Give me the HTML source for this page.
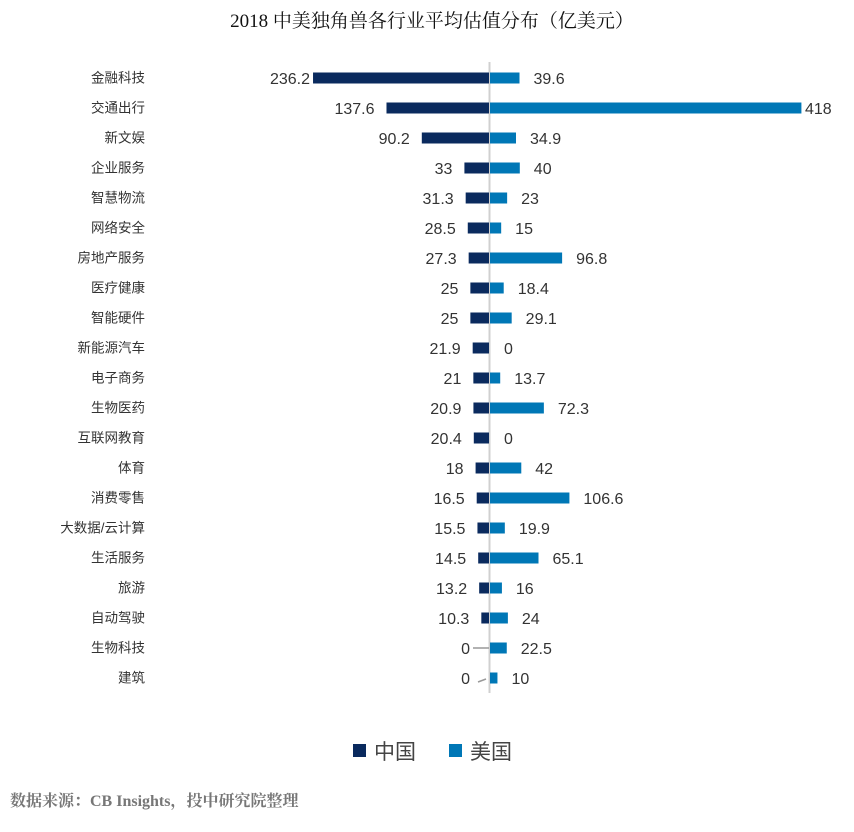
<!DOCTYPE html>
<html><head><meta charset="utf-8"><style>body{margin:0;background:#fff}svg{display:block}</style></head><body>
<svg width="854" height="832" xmlns="http://www.w3.org/2000/svg" id="s">
<text x="432" y="27" text-anchor="middle" font-family="Liberation Serif,'Noto Serif CJK SC',serif" font-size="19" fill="#111">2018 中美独角兽各行业平均估值分布（亿美元）</text>
<line x1="489.5" y1="62" x2="489.5" y2="693" stroke="#d0d0d0" stroke-width="2"/>
<g id="rows"></g>
<rect x="353" y="744" width="13" height="13" fill="#0a2a5e"/>
<text x="374" y="759" font-family="Liberation Sans,'Noto Sans CJK SC',sans-serif" font-size="21" fill="#444">中国</text>
<rect x="449" y="744" width="13" height="13" fill="#0077b6"/>
<text x="470" y="759" font-family="Liberation Sans,'Noto Sans CJK SC',sans-serif" font-size="21" fill="#444">美国</text>
<text x="10" y="806" font-family="Liberation Serif,'Noto Serif CJK SC',serif" font-size="16" font-weight="bold" fill="#777">数据来源：CB Insights，投中研究院整理</text>
</svg>
<script>
var d=[["金融科技",236.2,39.6],["交通出行",137.6,418],["新文娱",90.2,34.9],["企业服务",33,40],["智慧物流",31.3,23],["网络安全",28.5,15],["房地产服务",27.3,96.8],["医疗健康",25,18.4],["智能硬件",25,29.1],["新能源汽车",21.9,0],["电子商务",21,13.7],["生物医药",20.9,72.3],["互联网教育",20.4,0],["体育",18,42],["消费零售",16.5,106.6],["大数据/云计算",15.5,19.9],["生活服务",14.5,65.1],["旅游",13.2,16],["自动驾驶",10.3,24],["生物科技",0,22.5],["建筑",0,10]];
var k=0.745,c=489,h='',f="font-family=\"Liberation Sans,'Noto Sans CJK SC',sans-serif\"";
d.forEach(function(r,i){var y=78+i*30;
h+='<text x="145" y="'+(y+4.5)+'" text-anchor="end" '+f+' font-size="13.5" fill="#333">'+r[0]+'</text>';
var a=r[1]*k,b=r[2]*k;
if(r[1]>0)h+='<rect x="'+(c-a)+'" y="'+(y-5.5)+'" width="'+a+'" height="11" fill="#0a2a5e"/>';
else h+='<line x1="'+(i==19?473:478)+'" y1="'+(i==19?y:y+4)+'" x2="'+(i==19?489:486)+'" y2="'+(i==19?y:y+1)+'" stroke="#999" stroke-width="1.5"/>';
var lx=r[1]>0?c-a-12:470;if(i==0)lx=310;
h+='<text x="'+lx+'" y="'+(y+6)+'" text-anchor="end" '+f+' font-size="16" fill="#333">'+r[1]+'</text>';
if(r[2]>0)h+='<rect x="'+(c+1)+'" y="'+(y-5.5)+'" width="'+b+'" height="11" fill="#0077b6"/>';
var rx=c+b+15;if(i==1)rx=805;
h+='<text x="'+rx+'" y="'+(y+6)+'" '+f+' font-size="16" fill="#333">'+r[2]+'</text>';});
document.getElementById('rows').innerHTML=h;
</script>
</body></html>
